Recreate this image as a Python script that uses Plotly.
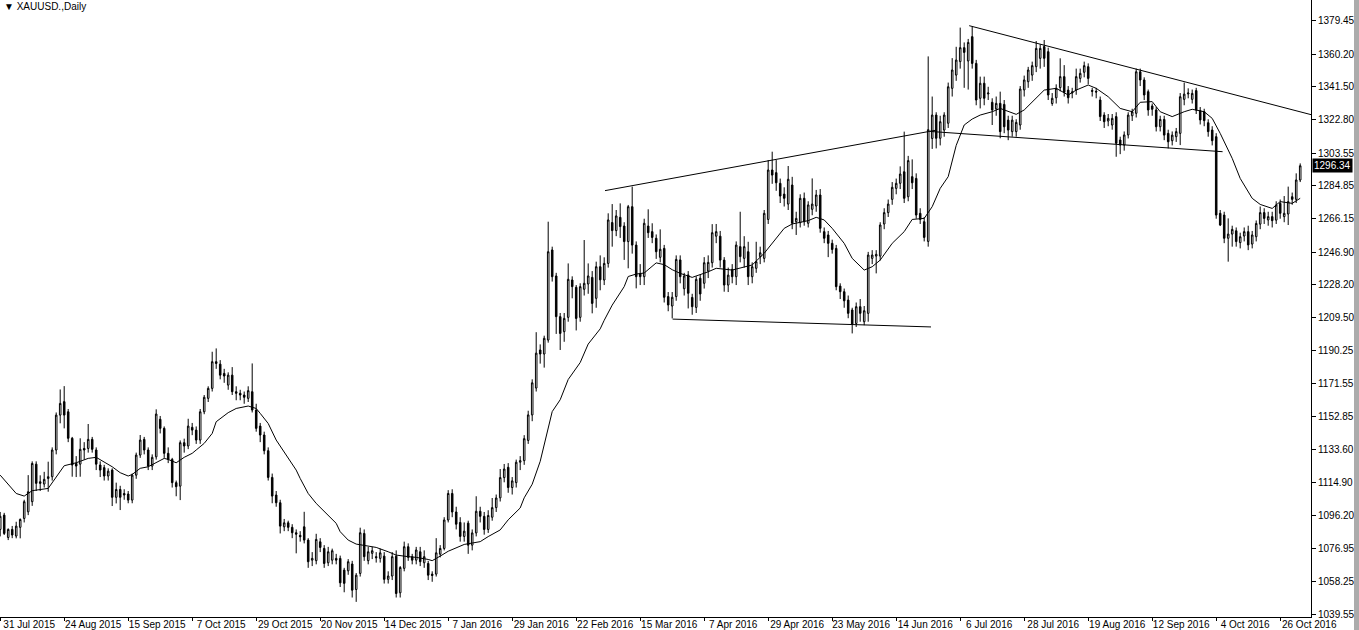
import plotly.graph_objects as go

# ---------------- data ----------------
# bar index 0 = 31 Jul 2015 ... 325 = 2 Nov 2016 (daily bars)
opens = [
 1088.0,1096.2,1083.4,1088.0,1084.2,1089.2,1094.3,1098.1,1103.9,1125.4,
 1115.3,1114.0,1117.2,1118.2,1133.5,1153.5,1161.2,1155.4,1140.2,1125.8,
 1125.4,1134.4,1134.4,1139.6,1133.5,1124.9,1123.4,1118.6,1122.0,1106.4,
 1110.9,1108.6,1108.3,1104.8,1119.1,1130.6,1139.6,1133.5,1124.3,1129.6,
 1151.1,1145.9,1131.6,1128.1,1114.8,1112.8,1137.7,1135.8,1146.5,1144.9,
 1139.2,1155.4,1163.1,1168.8,1184.1,1182.7,1177.4,1170.7,1176.4,1166.9,
 1166.0,1165.0,1163.1,1166.9,1156.4,1147.2,1142.1,1133.1,1117.8,1107.7,
 1103.3,1089.5,1091.8,1089.2,1086.1,1084.6,1089.5,1081.9,1070.4,1070.1,
 1080.9,1077.1,1068.9,1070.4,1071.4,1071.4,1064.7,1064.3,1068.2,1053.6,
 1062.8,1085.7,1070.1,1074.3,1072.4,1071.4,1072.7,1059.4,1061.3,1072.7,
 1051.7,1065.7,1078.1,1072.4,1070.4,1075.2,1068.9,1068.5,1062.4,1062.4,
 1073.8,1077.1,1093.4,1108.6,1098.0,1092.0,1084.0,1091.6,1079.0,1086.0,
 1098.4,1095.5,1088.0,1095.0,1100.5,1106.1,1117.7,1123.6,1112.0,1114.8,
 1126.5,1127.4,1139.0,1153.6,1169.0,1190.8,1188.5,1196.5,1248.1,1233.2,
 1209.9,1201.3,1209.5,1230.9,1226.7,1209.5,1225.6,1228.6,1232.4,1220.4,
 1238.5,1230.9,1240.4,1263.8,1259.2,1266.8,1261.8,1252.9,1272.9,1250.9,
 1234.5,1232.8,1261.8,1258.6,1254.8,1243.9,1249.0,1221.4,1216.0,1221.4,
 1242.4,1225.9,1233.8,1220.9,1215.2,1231.9,1229.0,1236.0,1240.8,1256.0,
 1256.0,1242.3,1228.0,1237.0,1232.8,1250.0,1243.3,1247.1,1232.8,1237.6,
 1244.3,1243.3,1265.6,1293.9,1292.4,1286.3,1280.1,1274.4,1285.3,1264.3,
 1263.7,1277.7,1263.4,1271.4,1273.3,1279.6,1258.6,1256.7,1251.9,1249.0,
 1227.4,1224.2,1219.4,1213.7,1206.0,1215.6,1207.0,1211.8,1243.3,1244.6,
 1244.6,1263.0,1269.5,1277.1,1283.4,1286.3,1292.9,1278.6,1290.1,1289.1,
 1269.1,1264.3,1253.0,1312.0,1325.4,1312.1,1316.8,1320.7,1340.7,1348.3,
 1356.0,1364.0,1356.4,1370.3,1355.0,1335.0,1343.6,1337.5,1332.7,1328.9,
 1332.1,1331.5,1322.5,1315.9,1315.9,1319.7,1339.8,1344.5,1348.3,1353.1,
 1357.9,1364.6,1361.7,1332.0,1335.3,1341.1,1347.4,1339.7,1338.0,1339.7,
 1346.4,1349.9,1353.1,1339.5,1339.0,1334.0,1325.4,1322.0,1319.7,1324.5,
 1311.1,1308.2,1314.0,1325.0,1326.4,1350.2,1345.5,1338.8,1330.6,1328.3,
 1318.7,1322.9,1314.9,1310.7,1313.0,1314.9,1334.4,1337.5,1334.4,1339.4,
 1327.9,1327.3,1321.0,1316.8,1313.0,1269.1,1268.1,1254.8,1257.2,1259.1,
 1252.3,1256.1,1258.6,1251.5,1255.7,1262.9,1269.5,1265.3,1267.2,1265.2,
 1274.8,1267.2,1268.7,1278.6,1277.1,1288.2]

highs = [
 1098.0,1097.5,1088.6,1090.0,1092.4,1094.3,1105.0,1119.1,1127.0,1127.0,
 1119.0,1121.0,1126.8,1135.0,1155.0,1168.2,1170.1,1157.0,1141.0,1130.0,
 1140.2,1138.0,1148.4,1141.0,1135.0,1127.0,1125.0,1123.0,1123.0,1114.8,
 1113.0,1111.0,1110.0,1120.0,1132.0,1142.1,1141.0,1135.0,1131.0,1156.8,
 1153.0,1147.0,1135.0,1129.0,1116.0,1139.0,1140.0,1151.4,1149.0,1147.0,
 1157.0,1165.0,1170.0,1189.8,1191.7,1185.0,1180.0,1178.0,1181.0,1170.0,
 1168.0,1167.0,1170.0,1183.1,1160.0,1149.0,1144.0,1135.0,1120.0,1110.0,
 1105.0,1094.0,1093.0,1091.0,1088.0,1087.0,1098.1,1083.0,1075.0,1085.5,
 1083.0,1079.0,1078.0,1077.0,1074.0,1073.0,1066.0,1071.0,1070.0,1063.0,
 1089.0,1088.0,1078.0,1078.0,1075.0,1077.0,1075.0,1064.0,1075.0,1076.0,
 1067.0,1081.0,1080.0,1074.0,1078.0,1078.0,1076.0,1070.0,1064.0,1083.0,
 1079.0,1095.0,1110.5,1111.0,1101.0,1095.0,1092.0,1093.0,1088.0,1107.0,
 1101.0,1098.0,1099.0,1106.0,1108.0,1122.6,1125.5,1126.0,1118.0,1128.0,
 1130.0,1142.0,1156.0,1174.0,1201.0,1194.0,1199.0,1264.3,1250.0,1235.0,
 1212.0,1212.0,1240.4,1233.0,1228.0,1229.0,1253.8,1240.4,1236.0,1241.4,
 1245.0,1243.9,1269.1,1274.4,1271.0,1274.8,1264.0,1273.9,1284.4,1253.0,
 1240.0,1266.0,1271.4,1263.4,1257.0,1259.9,1251.0,1224.0,1224.0,1245.0,
 1245.0,1235.0,1236.0,1223.0,1233.0,1234.0,1244.0,1245.0,1262.9,1263.0,
 1259.0,1244.0,1238.0,1240.0,1253.0,1270.0,1256.0,1252.8,1241.0,1252.8,
 1250.0,1271.0,1299.6,1304.4,1299.6,1289.0,1284.0,1296.2,1290.0,1270.0,
 1280.0,1281.0,1276.0,1289.1,1282.5,1283.0,1261.0,1259.0,1254.0,1251.0,
 1229.0,1226.0,1222.0,1215.0,1218.0,1220.0,1216.0,1247.0,1248.0,1248.0,
 1264.0,1272.0,1277.0,1287.0,1289.0,1296.0,1315.9,1302.0,1300.0,1292.0,
 1272.0,1267.0,1359.0,1336.0,1327.0,1325.0,1327.0,1344.0,1358.0,1364.5,
 1375.5,1367.0,1369.0,1376.0,1357.0,1347.4,1347.4,1341.6,1335.0,1336.0,
 1338.8,1334.0,1325.0,1325.0,1323.0,1342.0,1348.0,1353.0,1356.0,1367.8,
 1366.0,1368.4,1364.0,1338.0,1343.0,1357.9,1354.0,1342.0,1341.0,1352.0,
 1352.0,1356.0,1355.0,1341.0,1341.0,1336.0,1327.0,1326.0,1326.0,1327.0,
 1313.0,1316.0,1327.0,1329.0,1352.0,1352.0,1347.0,1340.0,1332.0,1330.0,
 1325.0,1325.0,1317.0,1316.0,1318.0,1338.0,1344.0,1340.7,1340.0,1341.0,
 1330.0,1329.0,1323.0,1319.0,1315.0,1271.0,1270.0,1266.2,1262.0,1261.0,
 1258.0,1261.0,1262.0,1259.0,1265.0,1273.0,1272.0,1270.0,1270.0,1276.0,
 1277.0,1279.0,1284.4,1281.0,1292.0,1297.7]

lows = [
 1084.0,1084.8,1081.9,1083.0,1082.9,1082.9,1092.0,1096.2,1101.5,1110.0,
 1110.0,1112.0,1109.6,1116.0,1131.0,1148.8,1145.9,1138.0,1118.2,1118.0,
 1118.2,1128.0,1132.0,1132.0,1122.0,1118.0,1116.0,1116.0,1101.4,1102.9,
 1099.1,1105.0,1103.0,1103.0,1117.0,1129.0,1131.0,1122.0,1122.0,1128.0,
 1143.0,1129.0,1126.0,1112.0,1107.0,1104.8,1132.0,1134.0,1142.0,1137.0,
 1137.0,1154.0,1161.0,1167.0,1180.0,1174.0,1172.0,1168.0,1165.0,1162.0,
 1162.0,1160.0,1161.0,1155.0,1144.0,1138.0,1131.0,1116.0,1103.0,1101.0,
 1085.7,1087.0,1087.0,1083.0,1074.3,1081.0,1080.0,1066.0,1067.0,1068.0,
 1075.0,1066.0,1067.0,1068.0,1068.0,1055.0,1052.0,1062.0,1049.0,1046.5,
 1061.0,1070.0,1068.0,1071.0,1069.0,1069.0,1057.0,1057.0,1059.0,1049.0,
 1049.0,1064.0,1070.0,1068.0,1068.0,1067.0,1066.0,1059.0,1058.0,1061.0,
 1072.0,1076.0,1092.0,1095.0,1088.0,1081.0,1081.0,1074.0,1076.0,1084.0,
 1092.0,1085.0,1086.0,1093.0,1098.0,1104.0,1115.0,1109.0,1108.0,1112.0,
 1122.0,1125.0,1137.0,1150.0,1167.0,1183.0,1180.7,1195.0,1230.0,1200.0,
 1190.8,1195.5,1207.0,1220.4,1202.0,1207.0,1222.0,1223.0,1211.8,1215.0,
 1225.0,1228.0,1238.0,1250.0,1256.0,1255.0,1242.4,1237.6,1246.0,1226.1,
 1228.0,1228.0,1255.0,1252.0,1243.0,1241.0,1218.0,1213.0,1208.9,1219.0,
 1229.0,1222.0,1214.6,1211.0,1212.0,1219.0,1226.0,1232.0,1238.0,1252.0,
 1238.0,1224.2,1224.0,1229.0,1228.0,1241.0,1238.0,1228.0,1229.0,1235.0,
 1240.0,1241.0,1263.0,1286.0,1282.0,1275.0,1273.0,1271.0,1260.0,1256.7,
 1261.0,1262.0,1261.0,1268.0,1270.0,1258.0,1252.0,1244.0,1246.0,1225.0,
 1220.0,1215.0,1209.0,1200.3,1204.0,1207.0,1205.0,1207.0,1240.0,1234.7,
 1242.0,1260.0,1267.0,1274.0,1280.0,1283.0,1275.0,1276.0,1283.0,1266.0,
 1263.0,1253.0,1250.0,1306.0,1306.3,1308.0,1313.0,1318.0,1336.0,1345.0,
 1352.0,1341.0,1340.0,1352.0,1331.0,1329.2,1331.0,1334.0,1319.7,1325.0,
 1312.1,1315.0,1311.0,1313.0,1313.0,1317.0,1336.0,1341.0,1345.0,1350.0,
 1352.0,1353.0,1334.0,1330.7,1332.0,1339.0,1336.0,1332.0,1335.0,1337.0,
 1344.0,1347.0,1343.0,1336.0,1335.0,1322.0,1318.0,1319.0,1317.0,1301.5,
 1303.0,1305.0,1312.0,1322.0,1324.0,1342.0,1334.0,1325.0,1325.0,1316.0,
 1316.0,1311.0,1306.3,1308.0,1310.0,1308.2,1331.0,1335.0,1332.0,1326.0,
 1320.0,1319.0,1313.0,1308.0,1266.0,1261.8,1252.0,1241.4,1250.0,1250.0,
 1249.0,1253.0,1248.0,1249.0,1253.0,1260.0,1263.0,1262.0,1261.0,1263.0,
 1266.0,1264.0,1262.4,1274.0,1275.0,1287.0]

closes = [
 1095.5,1085.7,1088.0,1084.8,1089.9,1093.7,1103.9,1109.6,1125.8,1114.4,
 1114.4,1116.7,1118.2,1133.5,1153.5,1160.2,1153.5,1140.2,1124.9,1124.3,
 1133.9,1133.5,1139.6,1133.9,1125.4,1122.0,1118.6,1121.4,1106.4,1110.9,
 1106.4,1107.7,1104.8,1119.1,1130.6,1139.2,1133.5,1124.3,1129.3,1154.1,
 1145.9,1131.6,1128.1,1114.8,1112.5,1137.7,1135.8,1147.2,1144.9,1139.2,
 1155.4,1163.7,1168.8,1184.1,1183.1,1176.4,1175.9,1176.4,1166.9,1166.0,
 1165.0,1163.7,1167.5,1156.4,1145.9,1142.1,1133.1,1117.8,1107.1,1103.3,
 1089.9,1091.8,1089.2,1086.1,1085.3,1083.8,1081.9,1069.5,1071.4,1082.3,
 1077.7,1068.5,1075.2,1075.8,1070.4,1057.4,1057.1,1069.5,1053.2,1061.8,
 1086.1,1072.4,1075.2,1075.8,1071.8,1074.6,1059.4,1061.3,1072.4,1051.3,
 1066.2,1078.1,1072.0,1070.4,1076.2,1069.5,1072.4,1061.8,1061.6,1074.6,
 1077.1,1093.4,1108.6,1098.0,1091.0,1084.0,1087.0,1079.0,1086.0,1098.4,
 1095.5,1088.0,1096.0,1100.5,1106.0,1117.7,1122.6,1112.0,1115.8,1126.5,
 1127.4,1140.0,1153.6,1172.0,1189.0,1188.5,1197.5,1247.1,1232.8,1209.9,
 1200.3,1208.9,1231.3,1227.1,1208.9,1227.1,1229.0,1233.2,1217.5,1238.5,
 1231.0,1240.4,1265.3,1259.2,1267.6,1261.5,1252.9,1272.9,1250.9,1232.8,
 1232.8,1263.4,1258.0,1255.3,1247.1,1248.5,1221.0,1216.6,1221.0,1242.7,
 1232.8,1233.2,1223.3,1215.6,1231.3,1222.9,1240.8,1241.0,1258.0,1258.6,
 1242.3,1228.0,1233.7,1232.8,1250.9,1244.3,1250.0,1232.8,1238.5,1241.4,
 1246.5,1269.1,1293.9,1291.0,1286.6,1279.0,1277.7,1288.6,1263.4,1266.2,
 1277.7,1264.3,1273.9,1274.4,1279.6,1260.5,1254.8,1251.9,1248.4,1227.1,
 1224.2,1219.0,1211.8,1205.7,1215.6,1211.8,1213.3,1245.2,1245.2,1245.6,
 1262.4,1269.5,1274.4,1284.0,1286.3,1291.6,1277.7,1299.3,1286.6,1268.1,
 1265.6,1255.3,1317.0,1325.4,1312.1,1321.6,1325.4,1341.6,1351.2,1356.9,
 1364.0,1361.3,1367.0,1355.0,1334.0,1343.6,1335.0,1338.0,1328.3,1332.1,
 1315.9,1318.7,1316.8,1322.5,1321.2,1340.3,1345.5,1351.2,1353.7,1363.6,
 1363.6,1357.9,1336.9,1335.0,1340.7,1347.4,1338.4,1335.3,1338.6,1347.4,
 1349.3,1353.7,1346.4,1339.0,1338.6,1324.5,1321.6,1323.5,1323.5,1309.2,
 1308.2,1314.0,1325.4,1327.3,1350.2,1345.5,1336.9,1328.3,1328.7,1318.7,
 1322.9,1313.9,1310.1,1313.9,1315.9,1335.9,1337.4,1338.0,1337.8,1328.3,
 1322.6,1322.2,1315.9,1310.7,1268.1,1262.4,1254.8,1257.2,1259.9,1252.9,
 1255.7,1258.6,1251.0,1256.7,1263.3,1269.5,1266.2,1267.2,1264.9,1273.9,
 1269.1,1269.1,1275.8,1277.1,1288.2,1296.34]

bars = list(range(len(closes)))

# moving average line at these bar indices
ma_idx = [0,4,6,8,12,14,16,19,22,24,25,28,30,32,33,35,37,39,41,42,44,46,48,49,51,53,54,57,59,62,
          64,65,67,69,72,74,75,77,79,82,84,85,87,89,92,94,97,99,102,104,107,108,110,112,116,120,122,125,127,130,
          131,133,135,136,138,140,142,145,147,150,151,153,156,157,159,161,163,164,166,168,170,173,177,179,183,186,188,191,193,196,
          198,202,204,206,208,211,213,216,218,220,223,226,228,231,233,235,237,239,241,243,245,248,250,253,254,256,258,261,264,267,
          269,272,274,277,280,283,285,288,290,293,296,298,301,303,305,308,310,313,315,318,320,323,325]
ma_val = [1119.1,1108.6,1107.1,1110.2,1111.5,1118.2,1124.5,1126.2,1128.7,1129.3,1128.0,1123.9,1120.5,1118.6,1119.5,1123.0,1123.9,1126.2,1128.7,1128.1,
          1126.2,1129.3,1131.6,1133.5,1137.3,1143.0,1149.7,1154.9,1157.3,1158.7,
          1157.3,1154.5,1148.7,1139.2,1129.0,1122.0,1117.2,1108.6,1102.9,1096.2,1091.5,1086.7,1081.9,1079.6,1078.5,1077.7,1075.2,1073.3,1072.4,1072.0,
          1070.8,1070.1,1072.7,1075.5,1079.4,1081.0,1083.9,1087.7,1093.5,1100.3,
          1106.1,1113.9,1127.0,1136.0,1155.5,1162.3,1173.9,1183.6,1194.2,1202.9,1207.8,1216.5,1227.1,1232.9,1234.3,1234.9,1238.7,1240.7,1239.7,1236.8,
          1234.7,1232.4,1235.6,1237.6,1236.6,1238.5,1239.5,1246.2,1252.0,1260.5,
          1263.0,1264.9,1266.8,1265.3,1260.5,1251.9,1243.3,1236.6,1238.5,1242.3,1251.9,1258.6,1265.6,1266.2,1272.9,1283.4,1290.1,1308.0,1319.7,1323.1,
          1325.4,1327.3,1329.2,1326.4,1325.8,1328.3,1333.1,1339.7,1340.7,1336.9,
          1339.7,1342.6,1340.7,1335.9,1329.2,1327.3,1332.7,1333.1,1327.3,1324.5,1327.3,1328.7,1327.3,1323.5,1314.9,1300.6,1289.1,1277.7,1274.2,1271.9,
          1275.8,1274.8,1277.7]

# trend lines drawn on the chart: (bar index, price) end points
trend_a_x, trend_a_y = [151.2, 233.9], [1282.1, 1316.7]   # rising resistance
trend_b_x, trend_b_y = [232.5, 305.6], [1316.0, 1304.4]   # neckline
trend_c_x, trend_c_y = [242.25, 328.1], [1376.6, 1325.4]  # falling resistance
trend_d_x, trend_d_y = [168.1, 232.7], [1208.5, 1204.0]   # support

# axis labels
x_tick_idx = [0, 16, 32, 48, 64, 80, 96, 112, 128, 144, 160, 176, 192, 208, 224, 240, 256, 272, 288, 304, 320]
x_tick_labels = ["31 Jul 2015", "24 Aug 2015", "15 Sep 2015", "7 Oct 2015", "29 Oct 2015", "20 Nov 2015",
                 "14 Dec 2015", "7 Jan 2016", "29 Jan 2016", "22 Feb 2016", "15 Mar 2016", "7 Apr 2016",
                 "29 Apr 2016", "23 May 2016", "14 Jun 2016", "6 Jul 2016", "28 Jul 2016", "19 Aug 2016",
                 "12 Sep 2016", "4 Oct 2016", "26 Oct 2016"]
y_ticks = [1379.45, 1360.20, 1341.50, 1322.80, 1303.55, 1284.85, 1266.15, 1246.90, 1228.20, 1209.50,
           1190.25, 1171.55, 1152.85, 1133.60, 1114.90, 1096.20, 1076.95, 1058.25, 1039.55]
last_price = 1296.34
title_text = "XAUUSD.,Daily"

assert len(opens) == len(highs) == len(lows) == len(closes)
assert len(ma_idx) == len(ma_val)

# ---------------- figure ----------------
FONT = "Liberation Sans, DejaVu Sans, sans-serif"
fig = go.Figure()

fig.add_trace(go.Candlestick(
    x=bars, open=opens, high=highs, low=lows, close=closes,
    increasing=dict(line=dict(color="black", width=1), fillcolor="white"),
    decreasing=dict(line=dict(color="black", width=1), fillcolor="black"),
    whiskerwidth=0, hoverinfo="skip", showlegend=False))

fig.add_trace(go.Scatter(x=ma_idx, y=ma_val, mode="lines",
                         line=dict(color="black", width=1), hoverinfo="skip", showlegend=False))

for tx, ty in [(trend_a_x, trend_a_y), (trend_b_x, trend_b_y), (trend_c_x, trend_c_y), (trend_d_x, trend_d_y)]:
    fig.add_trace(go.Scatter(x=tx, y=ty, mode="lines", line=dict(color="black", width=1),
                             hoverinfo="skip", showlegend=False, cliponaxis=True))

fig.update_layout(
    width=1359, height=630,
    margin=dict(l=0, r=48, t=0, b=13),
    paper_bgcolor="white", plot_bgcolor="white",
    showlegend=False, boxgap=0.45, hovermode=False,
    font=dict(family=FONT, size=10, color="black"),
    xaxis=dict(range=[-0.05, 327.7], tickmode="array", tickvals=x_tick_idx, ticktext=x_tick_labels,
               ticks="outside", ticklen=3, tickcolor="black", showline=True, linecolor="black",
               linewidth=1, showgrid=False, zeroline=False, rangeslider=dict(visible=False),
               ticklabelshift=29, ticklabelstandoff=-5,
               tickfont=dict(family=FONT, size=10, color="black"), automargin=False),
    yaxis=dict(side="right", range=[1037.83, 1391.31], tickmode="array", tickvals=y_ticks,
               ticktext=[f"{v:.2f}" for v in y_ticks], ticks="outside", ticklen=4, tickcolor="black",
               showline=True, linecolor="black", linewidth=1, showgrid=False, zeroline=False,
               tickfont=dict(family=FONT, size=10, color="black"), automargin=False),
    annotations=[
        dict(xref="paper", yref="paper", x=0, y=1, xanchor="left", yanchor="top", xshift=2, yshift=1,
             text="\u25BC " + title_text, showarrow=False, font=dict(family=FONT, size=10, color="black")),
        dict(xref="paper", yref="y", x=1, y=last_price, xanchor="left", yanchor="middle", xshift=1,
             text=f"{last_price:.2f}", showarrow=False, bgcolor="black", borderpad=1,
             font=dict(family=FONT, size=10, color="white")),
    ],
    shapes=[
        dict(type="rect", xref="paper", yref="paper", x0=1354 / 1311, x1=1359 / 1311, y0=-0.03, y1=1.0,
             fillcolor="#ababab", line=dict(width=0), layer="above"),
    ],
)

fig.write_html("out.html", config={"displayModeBar": False, "staticPlot": True},
               post_script="document.body.style.margin='0px';document.body.style.overflow='hidden';")
